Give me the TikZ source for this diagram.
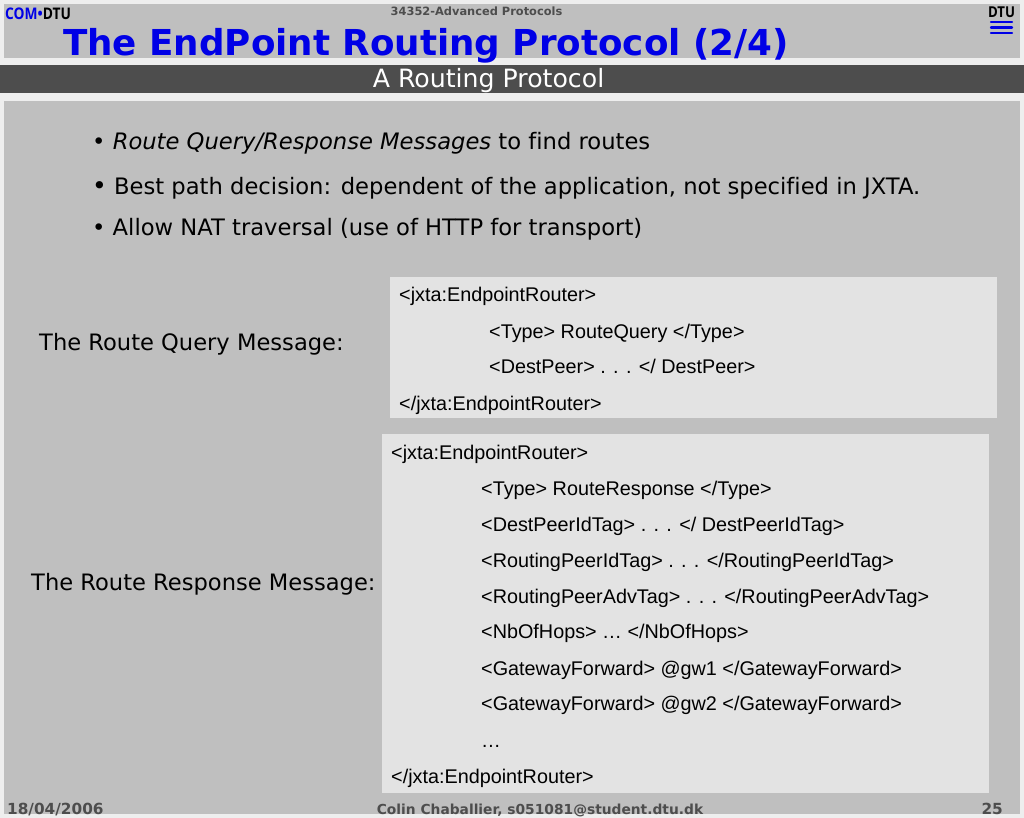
\documentclass[tikz,border=0pt]{standalone}
\usepackage{fontspec}
\setmainfont[Ligatures=NoCommon]{DejaVu Sans}
\newfontfamily\boxfont{Liberation Sans}
\newfontfamily\logofont{Open Sans}
\usetikzlibrary{positioning}
\definecolor{pageFill}{HTML}{EEEEEE}
\definecolor{barFill}{HTML}{BFBFBF}
\definecolor{darkFill}{HTML}{4D4D4D}
\definecolor{msgFill}{HTML}{E3E3E3}
\definecolor{titleBlue}{HTML}{0000E6}
\tikzset{
    Bullet/.style = {anchor=base west, inner sep=0pt, font=\fontsize{22.65}{26}\selectfont},
    Label/.style = {anchor=base west, inner sep=0pt, font=\fontsize{22.6}{26}\selectfont},
    Msg/.style = {anchor=base west, inner sep=0pt, font=\boxfont\fontsize{19.8}{22}\selectfont},
    Foot/.style = {inner sep=0pt, text=darkFill, font=\bfseries\fontsize{#1}{17}\selectfont},
    Foot/.default={15.3}
}
\begin{document}
\begin{tikzpicture}[x=1pt, y=-1pt]
    \useasboundingbox (0,0) rectangle (1024,818);
    \fill [pageFill] (0,0) rectangle (1024,818);
    \fill [barFill] (4,4) rectangle (1020,58);
    \fill [darkFill] (0,65) rectangle (1024,93);
    \fill [barFill] (4,101) rectangle (1020,814);
    % header
    \node [anchor=base west, inner sep=0pt, xscale=.86, font=\logofont\bfseries\fontsize{16}{17}\selectfont] (Logo) at (5,20) {\textcolor{titleBlue}{COM}\textcolor{titleBlue}{\textbullet}DTU};
    \node [anchor=base, inner sep=0pt, text=darkFill, font=\bfseries\fontsize{11.4}{14}\selectfont] (Course) at (476.5,16) {34352-Advanced Protocols};
    \node [anchor=base west, inner sep=0pt, text=titleBlue, font=\bfseries\fontsize{35.7}{40}\selectfont] (Title) at (63,55.5) {The EndPoint Routing Protocol (2/4)};
    \node [anchor=base, inner sep=0pt, xscale=.88, font=\logofont\bfseries\fontsize{15}{14}\selectfont] (DtuText) at (1001.5,18) {DTU};
    \foreach \y in {22,27.5,33} {
        \draw [titleBlue, line width=2.4pt, line cap=round] (991,\y) -- (1012,\y);
    }
    \node [anchor=base, inner sep=0pt, text=white, font=\fontsize{25.2}{27}\selectfont] (Sub) at (488.5,88) {A Routing Protocol};
    % bullets
    \node [Bullet] (B1) at (92,149.5) {\textbullet\ \textit{Route Query/Response Messages} to find routes};
    \node [Bullet] (B2) at (92,194.5) {{\fontsize{25}{27}\selectfont\textbullet}\ Best path decision: dependent of the application, not specified in JXTA.};
    \node [Bullet] (B3) at (92,235.5) {\textbullet\ Allow NAT traversal (use of HTTP for transport)};
    % route query
    \node [Label] (QLabel) at (39,350.5) {The Route Query Message:};
    \fill [msgFill] (390,277) rectangle (997,418);
    \node [Msg] (Q1) at (399,301.5) {<jxta:EndpointRouter>};
    \node [Msg] (Q2) at (489,338) {<Type> RouteQuery </Type>};
    \node [Msg] (Q3) at (489,373.5) {<DestPeer> . . . </ DestPeer>};
    \node [Msg] (Q4) at (399,410) {</jxta:EndpointRouter>};
    % route response
    \node [Label] (RLabel) at (31,590.5) {The Route Response Message:};
    \fill [msgFill] (382,434) rectangle (989,793);
    \node [Msg] (R1) at (391,459.5) {<jxta:EndpointRouter>};
    \node [Msg] (R2) at (481,495) {<Type> RouteResponse </Type>};
    \node [Msg] (R3) at (481,531.5) {<DestPeerIdTag> . . . </ DestPeerIdTag>};
    \node [Msg] (R4) at (481,567.5) {<RoutingPeerIdTag> . . . </RoutingPeerIdTag>};
    \node [Msg] (R5) at (481,603.5) {<RoutingPeerAdvTag> . . . </RoutingPeerAdvTag>};
    \node [Msg] (R6) at (481,638.5) {<NbOfHops> … </NbOfHops>};
    \node [Msg] (R7) at (481,675.5) {<GatewayForward> @gw1 </GatewayForward>};
    \node [Msg] (R8) at (481,710.5) {<GatewayForward> @gw2 </GatewayForward>};
    \node [Msg] (R9) at (481,747) {…};
    \node [Msg] (R10) at (391,783.5) {</jxta:EndpointRouter>};
    % footer
    \node [Foot, anchor=base west] (Date) at (7,814) {18/04/2006};
    \node [Foot=13.8, anchor=base] (Author) at (540,814) {Colin Chaballier, s051081@student.dtu.dk};
    \node [Foot, anchor=base east] (Page) at (1003,814) {25};
\end{tikzpicture}
\end{document}
